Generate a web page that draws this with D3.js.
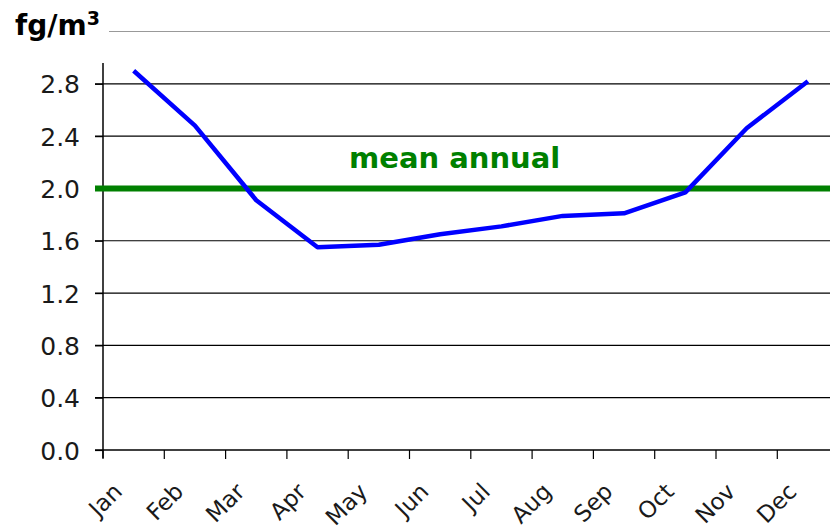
<!DOCTYPE html>
<html>
<head>
<meta charset="utf-8">
<script src="https://cdn.jsdelivr.net/npm/d3@7"></script>
<style>
  html, body { margin: 0; padding: 0; background: #ffffff; }
  svg { display: block; }
  text { font-family: "DejaVu Sans", Verdana, sans-serif; }
</style>
</head>
<body>
<svg id="chart" width="830" height="530"></svg>
<script>
// Monthly concentration (fg/m3) and the annual mean
const months = ["Jan", "Feb", "Mar", "Apr", "May", "Jun", "Jul", "Aug", "Sep", "Oct", "Nov", "Dec"];
const monthlyValues = [2.90, 2.48, 1.91, 1.55, 1.57, 1.65, 1.71, 1.79, 1.81, 1.97, 2.46, 2.82];
const meanAnnual = 2.0;
const yTickValues = [0.0, 0.4, 0.8, 1.2, 1.6, 2.0, 2.4, 2.8];
const yMax = 3.2;

const svg = d3.select("#chart");
const W = 830;

const x = d3.scaleBand().domain(months).range([103, 103 + 61.3 * 12]).paddingInner(0).paddingOuter(0);
const y = d3.scaleLinear().domain([0, yMax]).range([450, 31.5]);
const bw = x.bandwidth();

// top (gray) line at the scale maximum
svg.append("line")
  .attr("x1", 109).attr("x2", W)
  .attr("y1", y(yMax)).attr("y2", y(yMax))
  .attr("stroke", "#999999").attr("stroke-width", 1.2);

// horizontal gridlines with left tick marks
svg.append("g").selectAll("line")
  .data(yTickValues.filter(d => d > 0))
  .join("line")
  .attr("x1", 95).attr("x2", W)
  .attr("y1", d => y(d)).attr("y2", d => y(d))
  .attr("stroke", "#000000").attr("stroke-width", 1.2);

// y axis
const yAxis = d3.axisLeft(y).tickValues(yTickValues).tickSize(8).tickPadding(15)
  .tickFormat(d3.format(".1f"));
const gy = svg.append("g").attr("transform", "translate(103,0)").call(yAxis);
gy.select(".domain").remove();
gy.selectAll(".tick line").attr("stroke", "#000").attr("stroke-width", 1.2);
gy.selectAll(".tick text")
  .attr("fill", "#1a1a1a")
  .style("font-size", "25px")
  .attr("dy", "0.36em");
svg.append("line")
  .attr("x1", 103).attr("x2", 103)
  .attr("y1", 63).attr("y2", 458)
  .attr("stroke", "#000").attr("stroke-width", 1.5);

// x axis baseline and boundary ticks
svg.append("line")
  .attr("x1", 95).attr("x2", W)
  .attr("y1", y(0)).attr("y2", y(0))
  .attr("stroke", "#000").attr("stroke-width", 1.5);
svg.append("g").selectAll("line")
  .data(months)
  .join("line")
  .attr("x1", d => x(d)).attr("x2", d => x(d))
  .attr("y1", y(0)).attr("y2", y(0) + 9)
  .attr("stroke", "#000").attr("stroke-width", 1.2);

// rotated month labels
svg.append("g").selectAll("text")
  .data(months)
  .join("text")
  .attr("transform", d => `translate(${x(d) + bw / 2 - 10},493) rotate(-45)`)
  .attr("text-anchor", "end")
  .attr("fill", "#1a1a1a")
  .style("font-size", "23px")
  .text(d => d);

// annual mean line
svg.append("line")
  .attr("x1", 95).attr("x2", W)
  .attr("y1", y(meanAnnual)).attr("y2", y(meanAnnual))
  .attr("stroke", "#008000").attr("stroke-width", 6);

svg.append("text")
  .attr("x", 349).attr("y", 168)
  .attr("fill", "#008000")
  .style("font-size", "29px").style("font-weight", "bold")
  .text("mean annual");

// monthly series
const line = d3.line()
  .x((d, i) => x(months[i]) + bw / 2)
  .y(d => y(d));
svg.append("path")
  .datum(monthlyValues)
  .attr("d", line)
  .attr("fill", "none")
  .attr("stroke", "#0000ff")
  .attr("stroke-width", 4.5)
  .attr("stroke-linejoin", "round");

// unit label
const unit = svg.append("text")
  .attr("x", 15).attr("y", 35)
  .attr("fill", "#000")
  .style("font-size", "28px").style("font-weight", "bold");
unit.append("tspan").text("fg/m");
unit.append("tspan").attr("dy", -10).style("font-size", "19px").text("3");
</script>
</body>
</html>
